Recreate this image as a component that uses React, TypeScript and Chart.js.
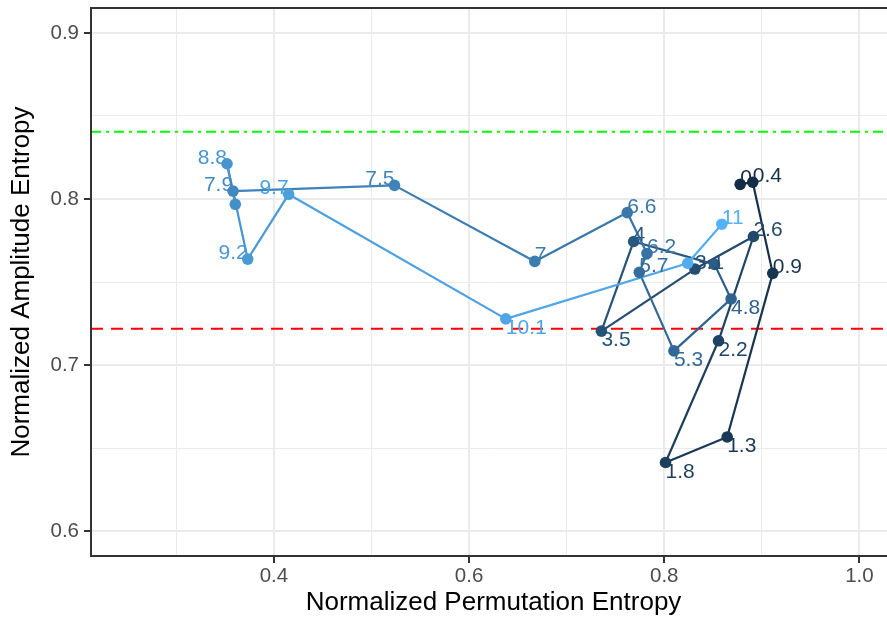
import React, { useEffect, useRef } from "react";
import { Chart, registerables } from "chart.js";
Chart.register(...registerables);

// ---- data ----
const times = [0, 0.4, 0.9, 1.3, 1.8, 2.2, 2.6, 3.1, 3.5, 4, 4.4, 4.8, 5.3, 5.7, 6.2, 6.6, 7, 7.5, 7.9, 8.4, 8.8, 9.2, 9.7, 10.1, 10.6, 11];
const permEntropy = [0.8778, 0.8907, 0.9112, 0.8645, 0.8013, 0.8556, 0.8914, 0.8314, 0.7356, 0.7686, 0.8515, 0.8685, 0.8099, 0.7744, 0.7823, 0.7621, 0.6673, 0.5235, 0.3581, 0.3604, 0.3519, 0.3731, 0.415, 0.6376, 0.824, 0.859];
const amplEntropy = [0.8088, 0.8101, 0.7552, 0.6567, 0.6413, 0.7146, 0.7774, 0.7578, 0.7204, 0.7744, 0.7606, 0.7398, 0.7085, 0.7558, 0.7672, 0.7918, 0.7624, 0.8082, 0.8047, 0.7968, 0.8212, 0.7638, 0.8028, 0.7278, 0.7613, 0.7848];
const hiddenLabels = [4.4, 8.4, 10.6];
const greenLineValue = 0.8405;
const redLineValue = 0.7218;
const xMajorTicks = [0.4, 0.6, 0.8, 1.0];
const xMinorTicks = [0.3, 0.5, 0.7, 0.9];
const yMajorTicks = [0.6, 0.7, 0.8, 0.9];
const yMinorTicks = [0.65, 0.75, 0.85];
const xLimits = [0.2125, 1.0375];
const yLimits = [0.585, 0.915];
const xTitle = "Normalized Permutation Entropy";
const yTitle = "Normalized Amplitude Entropy";
const lowColor = "#132B43";
const highColor = "#56B1F7";

const FAMILY = '"Liberation Sans", Arial, Helvetica, sans-serif';

// ---- Lab colour interpolation (ggplot default gradient) ----
function hexToRgb(h: string) {
  const n = parseInt(h.slice(1), 16);
  return [(n >> 16) & 255, (n >> 8) & 255, n & 255];
}
function toLin(c: number) {
  c /= 255;
  return c <= 0.04045 ? c / 12.92 : Math.pow((c + 0.055) / 1.055, 2.4);
}
function fromLin(c: number) {
  const v = c <= 0.0031308 ? 12.92 * c : 1.055 * Math.pow(c, 1 / 2.4) - 0.055;
  return Math.round(Math.min(1, Math.max(0, v)) * 255);
}
const Xn = 0.95047, Yn = 1.0, Zn = 1.08883;
function f(t: number) { return t > 0.008856 ? Math.cbrt(t) : 7.787 * t + 16 / 116; }
function finv(t: number) { const t3 = t * t * t; return t3 > 0.008856 ? t3 : (t - 16 / 116) / 7.787; }
function rgbToLab(rgb: number[]) {
  const r = toLin(rgb[0]), g = toLin(rgb[1]), b = toLin(rgb[2]);
  const X = 0.4124 * r + 0.3576 * g + 0.1805 * b;
  const Y = 0.2126 * r + 0.7152 * g + 0.0722 * b;
  const Z = 0.0193 * r + 0.1192 * g + 0.9505 * b;
  const fx = f(X / Xn), fy = f(Y / Yn), fz = f(Z / Zn);
  return [116 * fy - 16, 500 * (fx - fy), 200 * (fy - fz)];
}
function labToRgb(lab: number[]) {
  const fy = (lab[0] + 16) / 116;
  const fx = fy + lab[1] / 500;
  const fz = fy - lab[2] / 200;
  const X = finv(fx) * Xn, Y = finv(fy) * Yn, Z = finv(fz) * Zn;
  const r = 3.2406 * X - 1.5372 * Y - 0.4986 * Z;
  const g = -0.9689 * X + 1.8758 * Y + 0.0415 * Z;
  const b = 0.0557 * X - 0.204 * Y + 1.057 * Z;
  return [fromLin(r), fromLin(g), fromLin(b)];
}
function gradient(t: number) {
  const a = rgbToLab(hexToRgb(lowColor));
  const b = rgbToLab(hexToRgb(highColor));
  const lab = a.map((v, i) => v + (b[i] - v) * t);
  const c = labToRgb(lab);
  return `rgb(${c[0]},${c[1]},${c[2]})`;
}

const isIn = (arr: number[], v: number) => arr.some((m) => Math.abs(m - v) < 1e-9);

export default function App() {
  const ref = useRef<HTMLCanvasElement | null>(null);
  useEffect(() => {
    if (!ref.current) return;
    const tMin = Math.min(...times), tMax = Math.max(...times);
    const colors = times.map((t) => gradient((t - tMin) / (tMax - tMin)));

    const refLinePlugin = {
      id: "refLines",
      beforeDatasetsDraw(chart: any) {
        const { ctx, chartArea } = chart;
        const ys = chart.scales.y;
        ctx.save();
        ctx.lineWidth = 2;
        ctx.strokeStyle = "#00FF00";
        ctx.setLineDash([10, 5, 3, 5]);
        let y = ys.getPixelForValue(greenLineValue);
        ctx.beginPath(); ctx.moveTo(chartArea.left, y); ctx.lineTo(chartArea.right, y); ctx.stroke();
        ctx.strokeStyle = "#FF0000";
        ctx.setLineDash([12, 8]);
        y = ys.getPixelForValue(redLineValue);
        ctx.beginPath(); ctx.moveTo(chartArea.left, y); ctx.lineTo(chartArea.right, y); ctx.stroke();
        ctx.restore();
      },
    };

    const labelPlugin = {
      id: "pointLabels",
      afterDatasetsDraw(chart: any) {
        const { ctx } = chart;
        const xs = chart.scales.x, ys = chart.scales.y;
        const xMid = (xs.left + xs.right) / 2;
        const yMid = (ys.top + ys.bottom) / 2;
        const size = 21;
        const meta = chart.getDatasetMeta(0);
        ctx.save();
        ctx.font = `${size}px ${FAMILY}`;
        ctx.textBaseline = "alphabetic";
        meta.data.forEach((el: any, i: number) => {
          if (isIn(hiddenLabels, times[i])) return;
          ctx.fillStyle = colors[i];
          ctx.textAlign = el.x < xMid ? "right" : "left";
          const by = el.y < yMid ? el.y : el.y + size * 0.716;
          ctx.fillText(String(times[i]), el.x, by);
        });
        ctx.restore();
      },
    };

    const borderPlugin = {
      id: "panelBorder",
      afterDraw(chart: any) {
        const { ctx, chartArea } = chart;
        ctx.save();
        ctx.strokeStyle = "#333333";
        ctx.lineWidth = 2;
        ctx.strokeRect(chartArea.left, chartArea.top, chartArea.right - chartArea.left, chartArea.bottom - chartArea.top);
        ctx.restore();
      },
    };

    const chart = new Chart(ref.current, {
      type: "scatter",
      data: {
        datasets: [
          {
            data: permEntropy.map((x, i) => ({ x, y: amplEntropy[i] })),
            showLine: true,
            borderWidth: 2.2,
            borderColor: colors[0],
            segment: { borderColor: (c: any) => colors[c.p0DataIndex] },
            pointBackgroundColor: colors,
            pointBorderColor: colors,
            pointBorderWidth: 0,
            pointRadius: 5.8,
            pointHoverRadius: 5.8,
          } as any,
        ],
      },
      options: {
        animation: false,
        responsive: false,
        devicePixelRatio: 1,
        events: [],
        layout: { padding: { top: 8, right: 9, left: 0, bottom: 0 } },
        plugins: { legend: { display: false }, tooltip: { enabled: false } },
        scales: {
          x: {
            type: "linear",
            min: xLimits[0],
            max: xLimits[1],
            afterBuildTicks: (s: any) => {
              s.ticks = [...xMinorTicks, ...xMajorTicks].sort((a, b) => a - b).map((v) => ({ value: v }));
            },
            afterFit: (s: any) => { s.height = 67; s.paddingLeft = 0; s.paddingRight = 0; },
            ticks: {
              autoSkip: false,
              maxRotation: 0,
              padding: 1,
              color: "#4D4D4D",
              font: { size: 20.5, family: FAMILY },
              callback: (v: any) => (isIn(xMajorTicks, Number(v)) ? Number(v).toFixed(1) : ""),
            },
            grid: {
              color: "#EBEBEB",
              lineWidth: (c: any) => (c.tick && isIn(xMajorTicks, c.tick.value) ? 2 : 1),
              tickLength: 7,
              tickWidth: 2,
              tickColor: (c: any) => (c.tick && isIn(xMajorTicks, c.tick.value) ? "#333333" : "rgba(0,0,0,0)"),
            },
            border: { display: false },
            title: { display: true, text: xTitle, color: "#000000", font: { size: 26, family: FAMILY }, padding: { top: 0, bottom: 5 } },
          },
          y: {
            type: "linear",
            min: yLimits[0],
            max: yLimits[1],
            afterBuildTicks: (s: any) => {
              s.ticks = [...yMinorTicks, ...yMajorTicks].sort((a, b) => a - b).map((v) => ({ value: v }));
            },
            afterFit: (s: any) => { s.width = 91; s.paddingTop = 0; s.paddingBottom = 0; },
            ticks: {
              autoSkip: false,
              padding: 5,
              color: "#4D4D4D",
              font: { size: 20.5, family: FAMILY },
              callback: (v: any) => (isIn(yMajorTicks, Number(v)) ? Number(v).toFixed(1) : ""),
            },
            grid: {
              color: "#EBEBEB",
              lineWidth: (c: any) => (c.tick && isIn(yMajorTicks, c.tick.value) ? 2 : 1),
              tickLength: 7,
              tickWidth: 2,
              tickColor: (c: any) => (c.tick && isIn(yMajorTicks, c.tick.value) ? "#333333" : "rgba(0,0,0,0)"),
            },
            border: { display: false },
            title: { display: true, text: yTitle, color: "#000000", font: { size: 26, family: FAMILY }, padding: { top: 6, bottom: 0 } },
          },
        },
      } as any,
      plugins: [refLinePlugin, labelPlugin, borderPlugin],
    });
    return () => chart.destroy();
  }, []);

  return (
    <div style={{ position: "absolute", left: 0, top: 0, width: 887, height: 623, overflow: "hidden", background: "#ffffff" }}>
      <canvas ref={ref} width={905} height={623} style={{ display: "block" }} />
    </div>
  );
}
